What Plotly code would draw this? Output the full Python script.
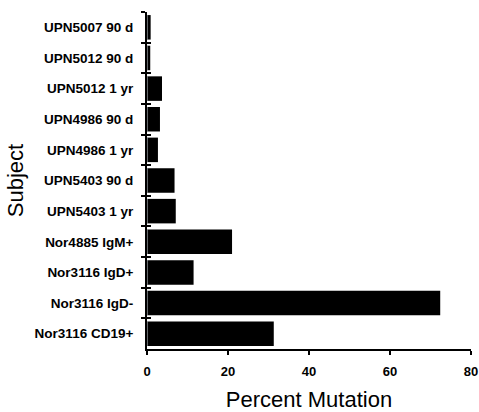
import plotly.graph_objects as go

# Subjects listed top to bottom
subjects = [
    "UPN5007 90 d",
    "UPN5012 90 d",
    "UPN5012 1 yr",
    "UPN4986 90 d",
    "UPN4986 1 yr",
    "UPN5403 90 d",
    "UPN5403 1 yr",
    "Nor4885 IgM+",
    "Nor3116 IgD+",
    "Nor3116 IgD-",
    "Nor3116 CD19+",
]
percent_mutation = [0.9, 0.8, 3.7, 3.2, 2.7, 6.8, 7.1, 21.0, 11.5, 72.4, 31.3]
x_ticks = [0, 20, 40, 60, 80]

font_family = "Liberation Sans, Arial, sans-serif"

fig = go.Figure()
fig.add_trace(go.Bar(
    x=percent_mutation,
    y=subjects,
    orientation="h",
    marker=dict(color="black", line=dict(width=0)),
    showlegend=False,
))
# invisible trace on a twin axis so boundary ticks cross the y axis line
fig.add_trace(go.Bar(
    x=[0] * len(subjects),
    y=subjects,
    orientation="h",
    yaxis="y2",
    marker=dict(color="rgba(0,0,0,0)"),
    showlegend=False,
    hoverinfo="skip",
))

fig.update_layout(
    width=479,
    height=412,
    margin=dict(l=147, r=8, t=12, b=63, autoexpand=False),
    paper_bgcolor="white",
    plot_bgcolor="white",
    bargap=0.2,
    font=dict(family=font_family, color="black"),
    xaxis=dict(
        range=[0, 80],
        automargin=False,
        tickvals=x_ticks,
        ticktext=[f"<b>{v}</b>" for v in x_ticks],
        showgrid=False,
        zeroline=False,
        showline=True,
        linecolor="black",
        linewidth=2,
        ticks="outside",
        ticklen=4,
        tickwidth=1.5,
        tickcolor="black",
        tickfont=dict(size=13),
        ticklabelstandoff=5,
        title=dict(text="Percent Mutation", font=dict(size=22), standoff=31),
    ),
    yaxis=dict(
        categoryorder="array",
        categoryarray=subjects,
        autorange="reversed",
        automargin=False,
        showgrid=False,
        zeroline=False,
        showline=True,
        linecolor="black",
        linewidth=2,
        ticks="outside",
        tickson="boundaries",
        ticklen=4,
        tickwidth=1.5,
        tickcolor="black",
        tickfont=dict(size=13.5, weight="bold"),
        ticklabelstandoff=9,
        title=dict(text="Subject", font=dict(size=22), standoff=5),
    ),
    yaxis2=dict(
        overlaying="y",
        matches="y",
        side="left",
        categoryorder="array",
        categoryarray=subjects,
        autorange="reversed",
        automargin=False,
        showgrid=False,
        zeroline=False,
        showline=False,
        ticks="inside",
        tickson="boundaries",
        ticklen=4,
        tickwidth=1.5,
        tickcolor="black",
        showticklabels=False,
    ),
)

fig.write_html("out.html")
